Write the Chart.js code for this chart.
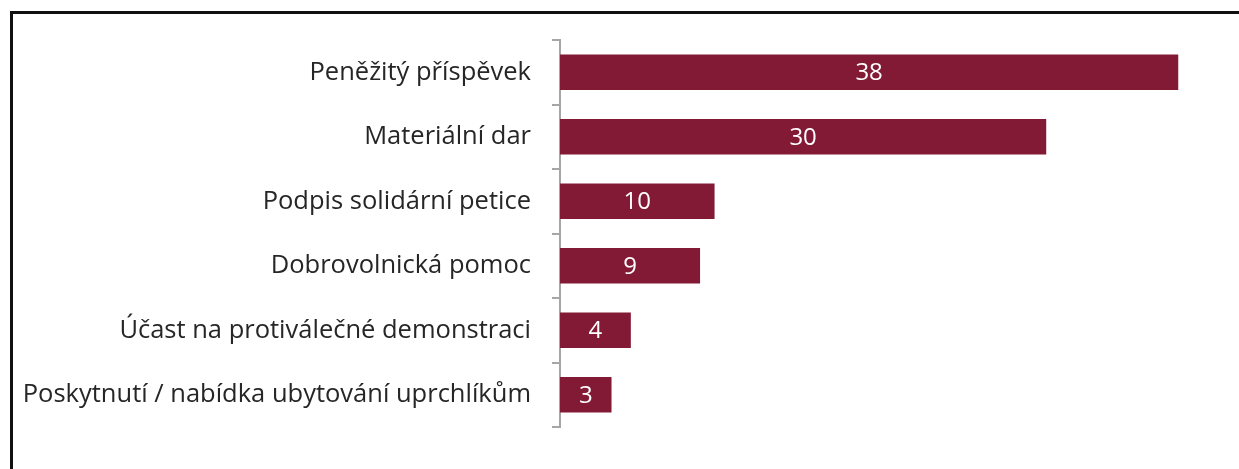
<!DOCTYPE html>
<html>
<head>
<meta charset="utf-8">
<script src="https://cdn.jsdelivr.net/npm/chart.js@4"></script>
<style>
  html, body { margin: 0; padding: 0; background: #fff; }
  #wrap { position: relative; width: 1239px; height: 469px; overflow: hidden; }
  #frame { position: absolute; left: 10px; top: 11px; width: 1300px; height: 500px;
           border-top: 3px solid #111; border-left: 3px solid #111; }
  canvas { position: absolute; left: 0; top: 0; }
</style>
</head>
<body>
<div id="wrap">
  <div id="frame"></div>
  <canvas id="myChart" width="1239" height="469"></canvas>
</div>
<script>
// categories and values (labels show rounded values)
var categories = [
    'Peněžitý příspěvek',
    'Materiální dar',
    'Podpis solidární petice',
    'Dobrovolnická pomoc',
    'Účast na protiválečné demonstraci',
    'Poskytnutí / nabídka ubytování uprchlíkům'
];
var values = [38.4, 30.2, 9.6, 8.7, 4.4, 3.2];
var barColor = '#831a35';

// white value labels centred in each bar
const barLabels = {
    id: 'barLabels',
    afterDatasetsDraw(chart) {
        const ctx = chart.ctx;
        const meta = chart.getDatasetMeta(0);
        ctx.save();
        ctx.font = '24px "Open Sans"';
        ctx.fillStyle = '#ffffff';
        ctx.textAlign = 'center';
        ctx.textBaseline = 'middle';
        meta.data.forEach(function(bar, i){
            var cx = (bar.x + bar.base) / 2;
            ctx.fillText(Math.round(values[i]).toString(), cx, bar.y + 1);
        });
        ctx.restore();
    }
};

Chart.defaults.font.family = '"Open Sans"';
Chart.defaults.font.size = 25.5;
Chart.defaults.color = '#262626';

const config = {
    type: 'bar',
    data: {
        labels: categories,
        datasets: [{
            data: values,
            backgroundColor: barColor,
            borderWidth: 0,
            categoryPercentage: 1,
            barPercentage: 0.55
        }]
    },
    options: {
        indexAxis: 'y',
        responsive: false,
        animation: false,
        layout: { padding: { left: 0, right: 35, top: 40, bottom: 42 } },
        plugins: { legend: { display: false }, tooltip: { enabled: false } },
        scales: {
            x: { display: false, min: 0, max: 40 },
            y: {
                afterFit: function(scale){ scale.width = 560; },
                border: { display: true, color: '#a6a6a6', width: 2 },
                grid: { drawOnChartArea: false, drawTicks: true, tickLength: 8, color: '#a6a6a6', lineWidth: 2 },
                ticks: { padding: 21, color: '#262626' }
            }
        }
    },
    plugins: [barLabels]
};

new Chart(document.getElementById('myChart'), config);
</script>
</body>
</html>
